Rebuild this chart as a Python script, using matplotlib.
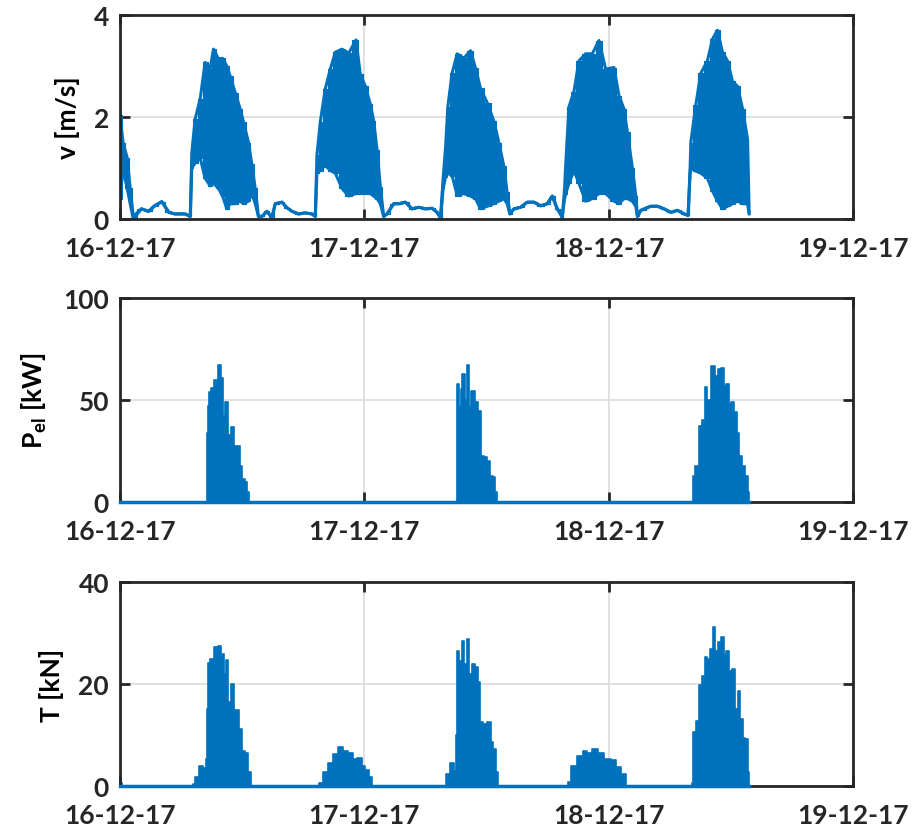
import matplotlib
matplotlib.use("Agg")
from matplotlib import pyplot as plt

# time axis in hours from 16-12-17 00:00
day_ticks = [0, 24, 48, 72]
day_labels = ["16-12-17", "17-12-17", "18-12-17", "19-12-17"]

# flow speed v [m/s]: upper / lower envelope of the dense signal
v_t = [0.0, 0.3, 0.7, 1.0, 1.3, 2.1, 2.8, 3.4, 4.1, 4.8, 5.4, 6.4, 6.9,
       7.05, 7.38, 7.87, 8.36, 8.85, 9.18, 9.67, 10.07, 10.49, 10.82, 11.31,
       11.8, 12.13, 12.62, 12.95, 13.28, 13.6,
       13.93, 14.43, 14.92, 15.25, 15.9, 16.4, 16.9, 17.54, 18.2, 18.85, 19.18,
       19.34, 19.67, 20.16, 20.66, 21.15, 21.8, 22.46, 23.18, 23.6, 24.1, 24.59,
       24.92, 25.25, 25.57, 25.9,
       26.23, 26.88, 27.38, 28.03, 28.69, 29.34, 30.0, 30.66, 31.15, 31.48,
       31.74, 31.97, 32.2, 32.62, 33.12, 33.77, 34.42, 34.92, 35.41, 36.07,
       36.72, 37.21, 37.7, 38.03, 38.29,
       38.69, 39.34, 40.0, 40.66, 41.31, 41.97, 42.46, 42.95, 43.44,
       43.67, 43.77, 44.1, 44.59, 45.08, 45.74, 46.39, 47.05, 47.7, 48.52,
       49.01, 49.5, 49.84, 50.33, 50.66, 50.82,
       51.15, 52.13, 52.79, 53.44, 54.1, 54.75, 55.41, 55.8,
       56.0, 56.07, 56.56, 57.05, 57.7, 58.2, 58.69, 59.18, 59.67, 60.16,
       60.66, 61.15, 61.64, 61.8]
v_hi = [2.03, 1.5, 1.2, 0.6, 0.05, 0.2, 0.15, 0.26, 0.34, 0.13, 0.1, 0.1, 0.05,
        1.3, 1.96, 2.35, 3.07, 2.95, 3.33, 3.14, 3.15, 3.0, 2.8, 2.48,
        2.16, 1.9, 1.5, 1.07, 0.6, 0.05,
        0.05, 0.15, 0.03, 0.3, 0.33, 0.22, 0.15, 0.1, 0.12, 0.1, 0.05,
        1.25, 1.9, 2.55, 2.94, 3.27, 3.33, 3.25, 3.51, 2.84, 2.6, 2.25,
        1.92, 1.35, 0.63, 0.05,
        0.1, 0.3, 0.3, 0.33, 0.2, 0.23, 0.2, 0.21, 0.13, 0.02,
        0.8, 1.38, 2.2, 2.86, 3.24, 3.15, 3.3, 2.96, 2.56, 2.28,
        1.92, 1.5, 1.04, 0.52, 0.1,
        0.2, 0.23, 0.33, 0.33, 0.26, 0.3, 0.45, 0.2, 0.04,
        0.6, 1.04, 2.2, 2.5, 3.1, 3.24, 3.24, 3.5, 2.94, 2.97,
        2.42, 2.16, 1.7, 1.0, 0.46, 0.05,
        0.17, 0.25, 0.25, 0.2, 0.13, 0.17, 0.1, 0.07,
        1.0, 1.5, 2.24, 2.86, 3.1, 3.53, 3.7, 3.27, 3.1, 2.7,
        2.6, 2.16, 1.57, 0.15]
v_lo = [0.4, 1.0, 0.6, 0.3, 0.0, 0.2, 0.15, 0.26, 0.34, 0.13, 0.1, 0.1, 0.05,
        1.0, 1.1, 1.2, 0.8, 0.65, 0.7, 0.6, 0.45, 0.2, 0.3, 0.3,
        0.35, 0.3, 0.35, 0.5, 0.3, 0.05,
        0.05, 0.15, 0.03, 0.3, 0.33, 0.22, 0.15, 0.1, 0.12, 0.1, 0.05,
        0.9, 0.95, 1.05, 0.95, 0.9, 0.6, 0.45, 0.5, 0.5, 0.5, 0.5,
        0.45, 0.4, 0.3, 0.05,
        0.1, 0.3, 0.3, 0.33, 0.2, 0.23, 0.2, 0.21, 0.13, 0.02,
        0.6, 0.82, 0.9, 0.85, 0.46, 0.5, 0.45, 0.4, 0.2, 0.25,
        0.3, 0.35, 0.4, 0.3, 0.1,
        0.2, 0.23, 0.33, 0.33, 0.26, 0.3, 0.45, 0.2, 0.04,
        0.4, 0.5, 0.7, 0.95, 0.7, 0.35, 0.4, 0.5, 0.5, 0.35,
        0.3, 0.4, 0.4, 0.35, 0.25, 0.05,
        0.17, 0.25, 0.25, 0.2, 0.13, 0.17, 0.1, 0.07,
        0.9, 1.0, 0.94, 0.9, 0.8, 0.55, 0.35, 0.2, 0.25, 0.3,
        0.35, 0.3, 0.3, 0.1]

# electrical power P_el [kW]: upper envelope (signal swings down to 0)
p_t = [0.0, 8.52, 8.59, 8.69, 8.85, 9.11, 9.44, 9.77, 10.0, 10.16, 10.49,
       10.75, 11.08, 11.31, 11.64, 11.87, 12.13, 12.39, 12.62, 12.7,
       33.05, 33.12, 33.38, 33.51, 33.77, 33.93, 34.16, 34.36, 34.69, 35.02,
       35.34, 35.57, 35.9, 36.23, 36.46, 36.72, 36.98, 37.11,
       56.23, 56.33, 56.72, 57.05, 57.38, 57.54, 57.87, 58.3, 58.62, 58.95,
       59.18, 59.41, 59.67, 59.93, 60.2, 60.49, 60.72, 60.98, 61.25, 61.57,
       61.8, 61.85]
p_hi = [0, 0, 34, 47, 53.8, 56, 60, 67, 61, 42, 49,
        33, 36.6, 27.6, 27.6, 17.8, 11.3, 10, 4.9, 0,
        0, 57.8, 46.4, 55.4, 62.7, 50, 67, 46.4, 54.6, 49,
        44.8, 22.7, 22, 20.3, 12.9, 12.4, 4.7, 0,
        0, 12.9, 17.8, 37.4, 40, 56.2, 50, 66.5, 62, 65,
        65.7, 57, 58, 48, 49, 44, 34, 22.7, 17.8, 12.9,
        4.7, 0]

# tether force T [kN]: upper envelope
f_t = [0.0, 0.1, 0.3, 7.1, 7.21, 7.54, 8.03, 8.36, 8.52, 8.6, 8.69, 9.02, 9.44,
       9.77, 10.0, 10.33, 10.49, 10.75, 11.08, 11.31, 11.54, 11.8, 12.13,
       12.46, 12.72, 12.95,
       19.5, 19.67, 20.16, 20.66, 21.15, 21.7, 22.13, 22.62, 23.11, 23.54, 23.93,
       24.26, 24.59, 24.98,
       32.0, 32.13, 32.72, 32.95, 33.05, 33.12, 33.4, 33.7, 33.93, 34.16, 34.43,
       34.69, 35.02, 35.25, 35.47, 35.9, 36.23, 36.56, 36.79, 37.05, 37.2,
       44.0, 44.1, 44.59, 45.25, 45.67, 46.16, 46.62, 47.21, 47.87, 48.52, 49.01,
       49.5, 50.0,
       56.1, 56.23, 56.39, 56.72, 56.98, 57.38, 57.54, 57.87, 58.1, 58.3, 58.56,
       58.85, 59.18, 59.41, 59.67, 59.93, 60.26, 60.49, 60.82, 61.05, 61.25,
       61.57, 61.8, 61.85]
f_hi = [1.2, 0.5, 0.0, 0.0, 0.4, 1.7, 4.0, 3.5, 5.3, 15, 24.2, 24.8, 27.2,
        27.5, 25.9, 22, 24.6, 16.4, 20, 14.8, 14.8, 11.2, 6.9,
        6.5, 2.7, 0.0,
        0.0, 0.6, 2.7, 4.6, 6.3, 7.6, 6.9, 6.5, 5.3, 5.5, 4.0,
        3.1, 1.8, 0.0,
        0.0, 2.35, 4.6, 3.0, 10, 26.5, 24.5, 28.5, 24, 28.8, 22,
        23.9, 23.3, 20.3, 12.5, 12.1, 12.5, 8.6, 7.3, 2.7, 0.0,
        0.0, 0.8, 4.0, 5.9, 6.9, 6.5, 7.2, 6.5, 5.3, 5.1, 3.7,
        2.3, 0.0,
        0.0, 0.6, 10.5, 12.8, 19.7, 21.6, 25.2, 24.8, 26.9, 31.1, 26.5,
        28.2, 29.2, 25.6, 26.5, 22.6, 23, 15.1, 18.7, 13.1, 9.5,
        9.3, 2.7, 0.0]

BLUE = "#0072BD"
AXC = "#262626"

plt.rcParams["font.family"] = ["Lato", "DejaVu Sans"]
plt.rcParams["font.weight"] = "bold"
plt.rcParams["font.size"] = 19
plt.rcParams["mathtext.fontset"] = "custom"
plt.rcParams["mathtext.rm"] = "Lato:bold"
plt.rcParams["mathtext.it"] = "Lato:bold"
plt.rcParams["mathtext.bf"] = "Lato:bold"

fig = plt.figure(figsize=(9.17, 8.29), dpi=100)
ax1 = fig.add_axes([0.1309, 0.7346, 0.7993, 0.2461])
ax2 = fig.add_axes([0.1309, 0.3932, 0.7993, 0.2461])
ax3 = fig.add_axes([0.1309, 0.0507, 0.7993, 0.2461])

# v: stepped band for the oscillating parts, plain line through the calm parts
ax1.fill_between(v_t, v_lo, v_hi, color=BLUE, lw=0.8, step="mid")
ax1.plot(v_t, v_hi, color=BLUE, lw=2.2)
ax1.plot(v_t, v_lo, color=BLUE, lw=2.2)

# P_el
ax2.fill_between(p_t, 0, p_hi, color=BLUE, lw=0, step="mid")
ax2.plot(p_t, p_hi, color=BLUE, lw=1.2, drawstyle="steps-mid")
ax2.plot([0, 61.8], [0, 0], color=BLUE, lw=2.5, zorder=3, clip_on=False)

# T
ax3.fill_between(f_t, 0, f_hi, color=BLUE, lw=0, step="mid")
ax3.plot(f_t, f_hi, color=BLUE, lw=1.2, drawstyle="steps-mid")
ax3.plot([0, 61.8], [0, 0], color=BLUE, lw=2.5, zorder=3, clip_on=False)

setup = [
    (ax1, [0, 2, 4], "v [m/s]"),
    (ax2, [0, 50, 100], r"P$_{\mathregular{el}}$ [kW]"),
    (ax3, [0, 20, 40], "T [kN]"),
]
for ax, yt, lab in setup:
    ax.set_xlim(0, 72)
    ax.set_ylim(yt[0], yt[-1])
    ax.set_xticks(day_ticks)
    ax.set_xticklabels(day_labels)
    ax.set_yticks(yt)
    ax.set_ylabel(lab, fontweight="bold", labelpad=10)
    ax.grid(True, color="#dcdcdc", lw=1.2)
    ax.set_axisbelow(True)
    ax.tick_params(direction="in", length=7, width=2, colors=AXC,
                   top=True, right=True, labelsize=19)
    ax.tick_params(axis="x", pad=12)
    ax.tick_params(axis="y", pad=8)
    for s in ax.spines.values():
        s.set_linewidth(2)
        s.set_color(AXC)

fig.savefig("out.png", dpi=100)
